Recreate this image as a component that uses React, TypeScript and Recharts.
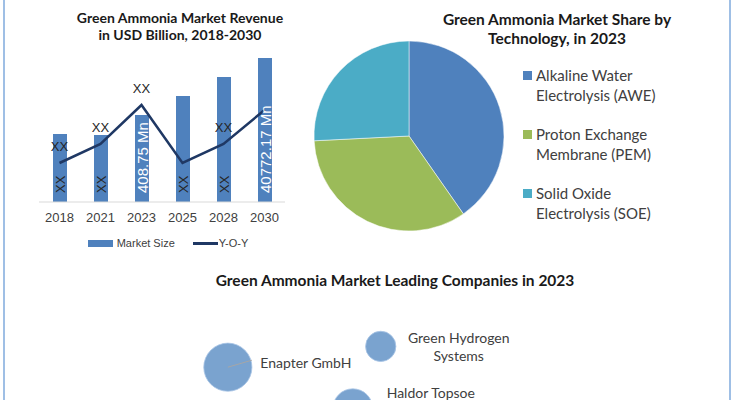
import {
  ComposedChart,
  Bar,
  Line,
  XAxis,
  YAxis,
  LabelList,
  Legend,
  PieChart,
  Pie,
  Cell,
  ScatterChart,
  Scatter,
  ZAxis,
} from "recharts";

// ── Data ──────────────────────────────────────────────────────────────────────
const years = ["2018", "2021", "2023", "2025", "2028", "2030"];
const marketSize = [68, 67, 87, 106, 125, 144];
const yoyGrowth = [39, 58, 97, 39, 58, 92];
const barLabels = ["XX", "XX", "408.75 Mn", "XX", "XX", "40772.17 Mn"];
const yoyLabels = ["XX", "XX", "XX", "", "XX", ""];

const techNames = [
  "Alkaline Water Electrolysis (AWE)",
  "Proton Exchange Membrane (PEM)",
  "Solid Oxide Electrolysis (SOE)",
];
const techShares = [40.3, 33.9, 25.8];

const companies = ["Enapter GmbH", "Green Hydrogen Systems", "Haldor Topsoe"];
const companyX = [31, 51.8, 48];
const companyY = [33, 46, 7];
const companySize = [58, 23, 40];

// ── Styles ────────────────────────────────────────────────────────────────────
const BLUE = "#4f81bd";
const NAVY = "#1f3864";
const TECH_COLORS = ["#4f81bd", "#9bbb59", "#4bacc6"];
const BUBBLE = "#7aa3cf";
const SANS = "'Liberation Sans', Arial, sans-serif";
const CAL = "Lato, 'Open Sans', sans-serif";

const revenueData = years.map((year, i) => ({
  year,
  size: marketSize[i],
  yoy: yoyGrowth[i],
  barLabel: barLabels[i],
  yoyLabel: yoyLabels[i],
}));

const techData = techNames.map((name, i) => ({ name, value: techShares[i] }));

const companyData = companies.map((name, i) => ({
  name,
  x: companyX[i],
  y: companyY[i],
  z: companySize[i],
}));

// label nudges for the bubble names (px, relative to bubble centre)
const NAME_DY = [-5, 0, -17];

function BarTextLabel({ x, y, width, height, value }: any) {
  if (!value) return null;
  const px = x + width / 2;
  const py = y + height - 9;
  const light = String(value).includes("Mn");
  return (
    <text
      x={px}
      y={py}
      transform={`rotate(-90 ${px} ${py})`}
      textAnchor="start"
      dominantBaseline="central"
      fontFamily={SANS}
      fontSize={light ? 15 : 13}
      fill={light ? "#fff" : "#262626"}
    >
      {value}
    </text>
  );
}

function LineTextLabel({ x, y, value }: any) {
  if (!value) return null;
  return (
    <text x={x} y={y - 12} textAnchor="middle" fontFamily={SANS} fontSize={13} fill="#262626">
      {value}
    </text>
  );
}

function RevenueLegend() {
  return (
    <div
      style={{
        display: "flex",
        justifyContent: "center",
        alignItems: "center",
        gap: 18,
        paddingLeft: 12,
        paddingTop: 10,
        fontFamily: SANS,
        fontSize: 11,
        color: "#404040",
      }}
    >
      <span style={{ display: "flex", alignItems: "center", gap: 4 }}>
        <span style={{ width: 25, height: 7, background: BLUE, display: "inline-block" }} />
        Market Size
      </span>
      <span style={{ display: "flex", alignItems: "center", gap: 1 }}>
        <span style={{ width: 25, height: 3, background: NAVY, display: "inline-block" }} />
        Y-O-Y
      </span>
    </div>
  );
}

function TechLegend() {
  return (
    <div style={{ fontFamily: CAL, fontSize: 15, color: "#404040", lineHeight: "20px" }}>
      {techData.map((d, i) => (
        <div key={d.name} style={{ display: "flex", marginBottom: 19 }}>
          <span
            style={{
              width: 9,
              height: 9,
              background: TECH_COLORS[i],
              marginTop: 6,
              marginRight: 4,
              flex: "none",
            }}
          />
          <span style={{ width: 140 }}>{d.name}</span>
        </div>
      ))}
    </div>
  );
}

function Bubble(props: any) {
  const { cx, cy, size, width, payload, index } = props;
  const r = size ? Math.sqrt(size / Math.PI) : width / 2;
  const name: string = payload.name;
  const sp = name.lastIndexOf(" ");
  const lines = name.length > 16 ? [name.slice(0, sp), name.slice(sp + 1)] : [name];
  const tx = cx + 78;
  const ty = cy + (NAME_DY[index] ?? 0) - ((lines.length - 1) * 18) / 2;
  return (
    <g>
      <circle cx={cx} cy={cy} r={r} fill={BUBBLE} stroke="#a9c5e6" strokeWidth={0.8} />
      {index === 0 && (
        <line x1={cx} y1={cy} x2={cx + 24} y2={cy - 7} stroke="#a6a6a6" strokeWidth={1} />
      )}
      <text
        x={tx}
        y={ty}
        textAnchor="middle"
        dominantBaseline="central"
        fontFamily={CAL}
        fontSize={14}
        fill="#404040"
      >
        {lines.map((l, i) => (
          <tspan key={l} x={tx} dy={i === 0 ? 0 : 18}>
            {l}
          </tspan>
        ))}
      </text>
    </g>
  );
}

const titleStyle = {
  position: "absolute" as const,
  textAlign: "center" as const,
  fontFamily: CAL,
  fontWeight: 700,
  color: "#1a1a1a",
};

export default function App() {
  return (
    <div
      style={{
        position: "fixed",
        left: 0,
        top: 0,
        width: 735,
        height: 400,
        background: "#fff",
        overflow: "hidden",
      }}
    >
      <div style={{ position: "absolute", left: 3, top: 0, width: 2, height: 400, background: "#9fbfe5" }} />
      <div style={{ position: "absolute", left: 729, top: 0, width: 2, height: 400, background: "#9fbfe5" }} />

      <div style={{ ...titleStyle, left: 60, top: 9, width: 240, fontSize: 14, lineHeight: "17px" }}>
        Green Ammonia Market Revenue
        <br />
        in USD Billion, 2018-2030
      </div>

      <div style={{ ...titleStyle, left: 407, top: 10, width: 300, fontSize: 15.5, lineHeight: "19px" }}>
        Green Ammonia Market Share by
        <br />
        Technology, in 2023
      </div>

      <div style={{ ...titleStyle, left: 175, top: 271, width: 440, fontSize: 15.5, lineHeight: "19px" }}>
        Green Ammonia Market Leading Companies in 2023
      </div>

      <div style={{ position: "absolute", left: 0, top: 0 }}>
        <ComposedChart
          width={300}
          height={260}
          data={revenueData}
          margin={{ top: 52, right: 15, bottom: 5, left: 39 }}
        >
          <XAxis
            dataKey="year"
            axisLine={{ stroke: "#d9d9d9" }}
            tickLine={false}
            tickMargin={5}
            height={25}
            tick={{ fontFamily: SANS, fontSize: 13, fill: "#404040" }}
          />
          <YAxis hide domain={[0, 150]} />
          <Legend verticalAlign="bottom" height={28} content={<RevenueLegend />} />
          <Bar dataKey="size" name="Market Size" fill={BLUE} barSize={14} isAnimationActive={false}>
            <LabelList dataKey="barLabel" content={<BarTextLabel />} />
          </Bar>
          <Line
            dataKey="yoy"
            name="Y-O-Y"
            type="linear"
            stroke={NAVY}
            strokeWidth={2.5}
            dot={false}
            isAnimationActive={false}
          >
            <LabelList dataKey="yoyLabel" content={<LineTextLabel />} />
          </Line>
        </ComposedChart>
      </div>

      <div style={{ position: "absolute", left: 280, top: 0 }}>
        <PieChart width={455} height={240} margin={{ top: 0, right: 0, bottom: 0, left: 0 }}>
          <Pie
            data={techData}
            dataKey="value"
            nameKey="name"
            cx={129}
            cy={136}
            outerRadius={95}
            startAngle={90}
            endAngle={-270}
            stroke="#fff"
            strokeWidth={0.5}
            isAnimationActive={false}
          >
            {techData.map((d, i) => (
              <Cell key={d.name} fill={TECH_COLORS[i]} />
            ))}
          </Pie>
          <Legend
            content={<TechLegend />}
            wrapperStyle={{ position: "absolute", left: 243, top: 65, width: 175 }}
          />
        </PieChart>
      </div>

      <div style={{ position: "absolute", left: 0, top: 260 }}>
        <ScatterChart width={735} height={160} margin={{ top: 0, right: 0, bottom: 0, left: 0 }}>
          <XAxis type="number" dataKey="x" domain={[0, 100]} hide />
          <YAxis type="number" dataKey="y" domain={[0, 100]} hide />
          <ZAxis type="number" dataKey="z" domain={[0, 100]} range={[0, 3140]} />
          <Scatter data={companyData} shape={<Bubble />} isAnimationActive={false} />
        </ScatterChart>
      </div>
    </div>
  );
}
